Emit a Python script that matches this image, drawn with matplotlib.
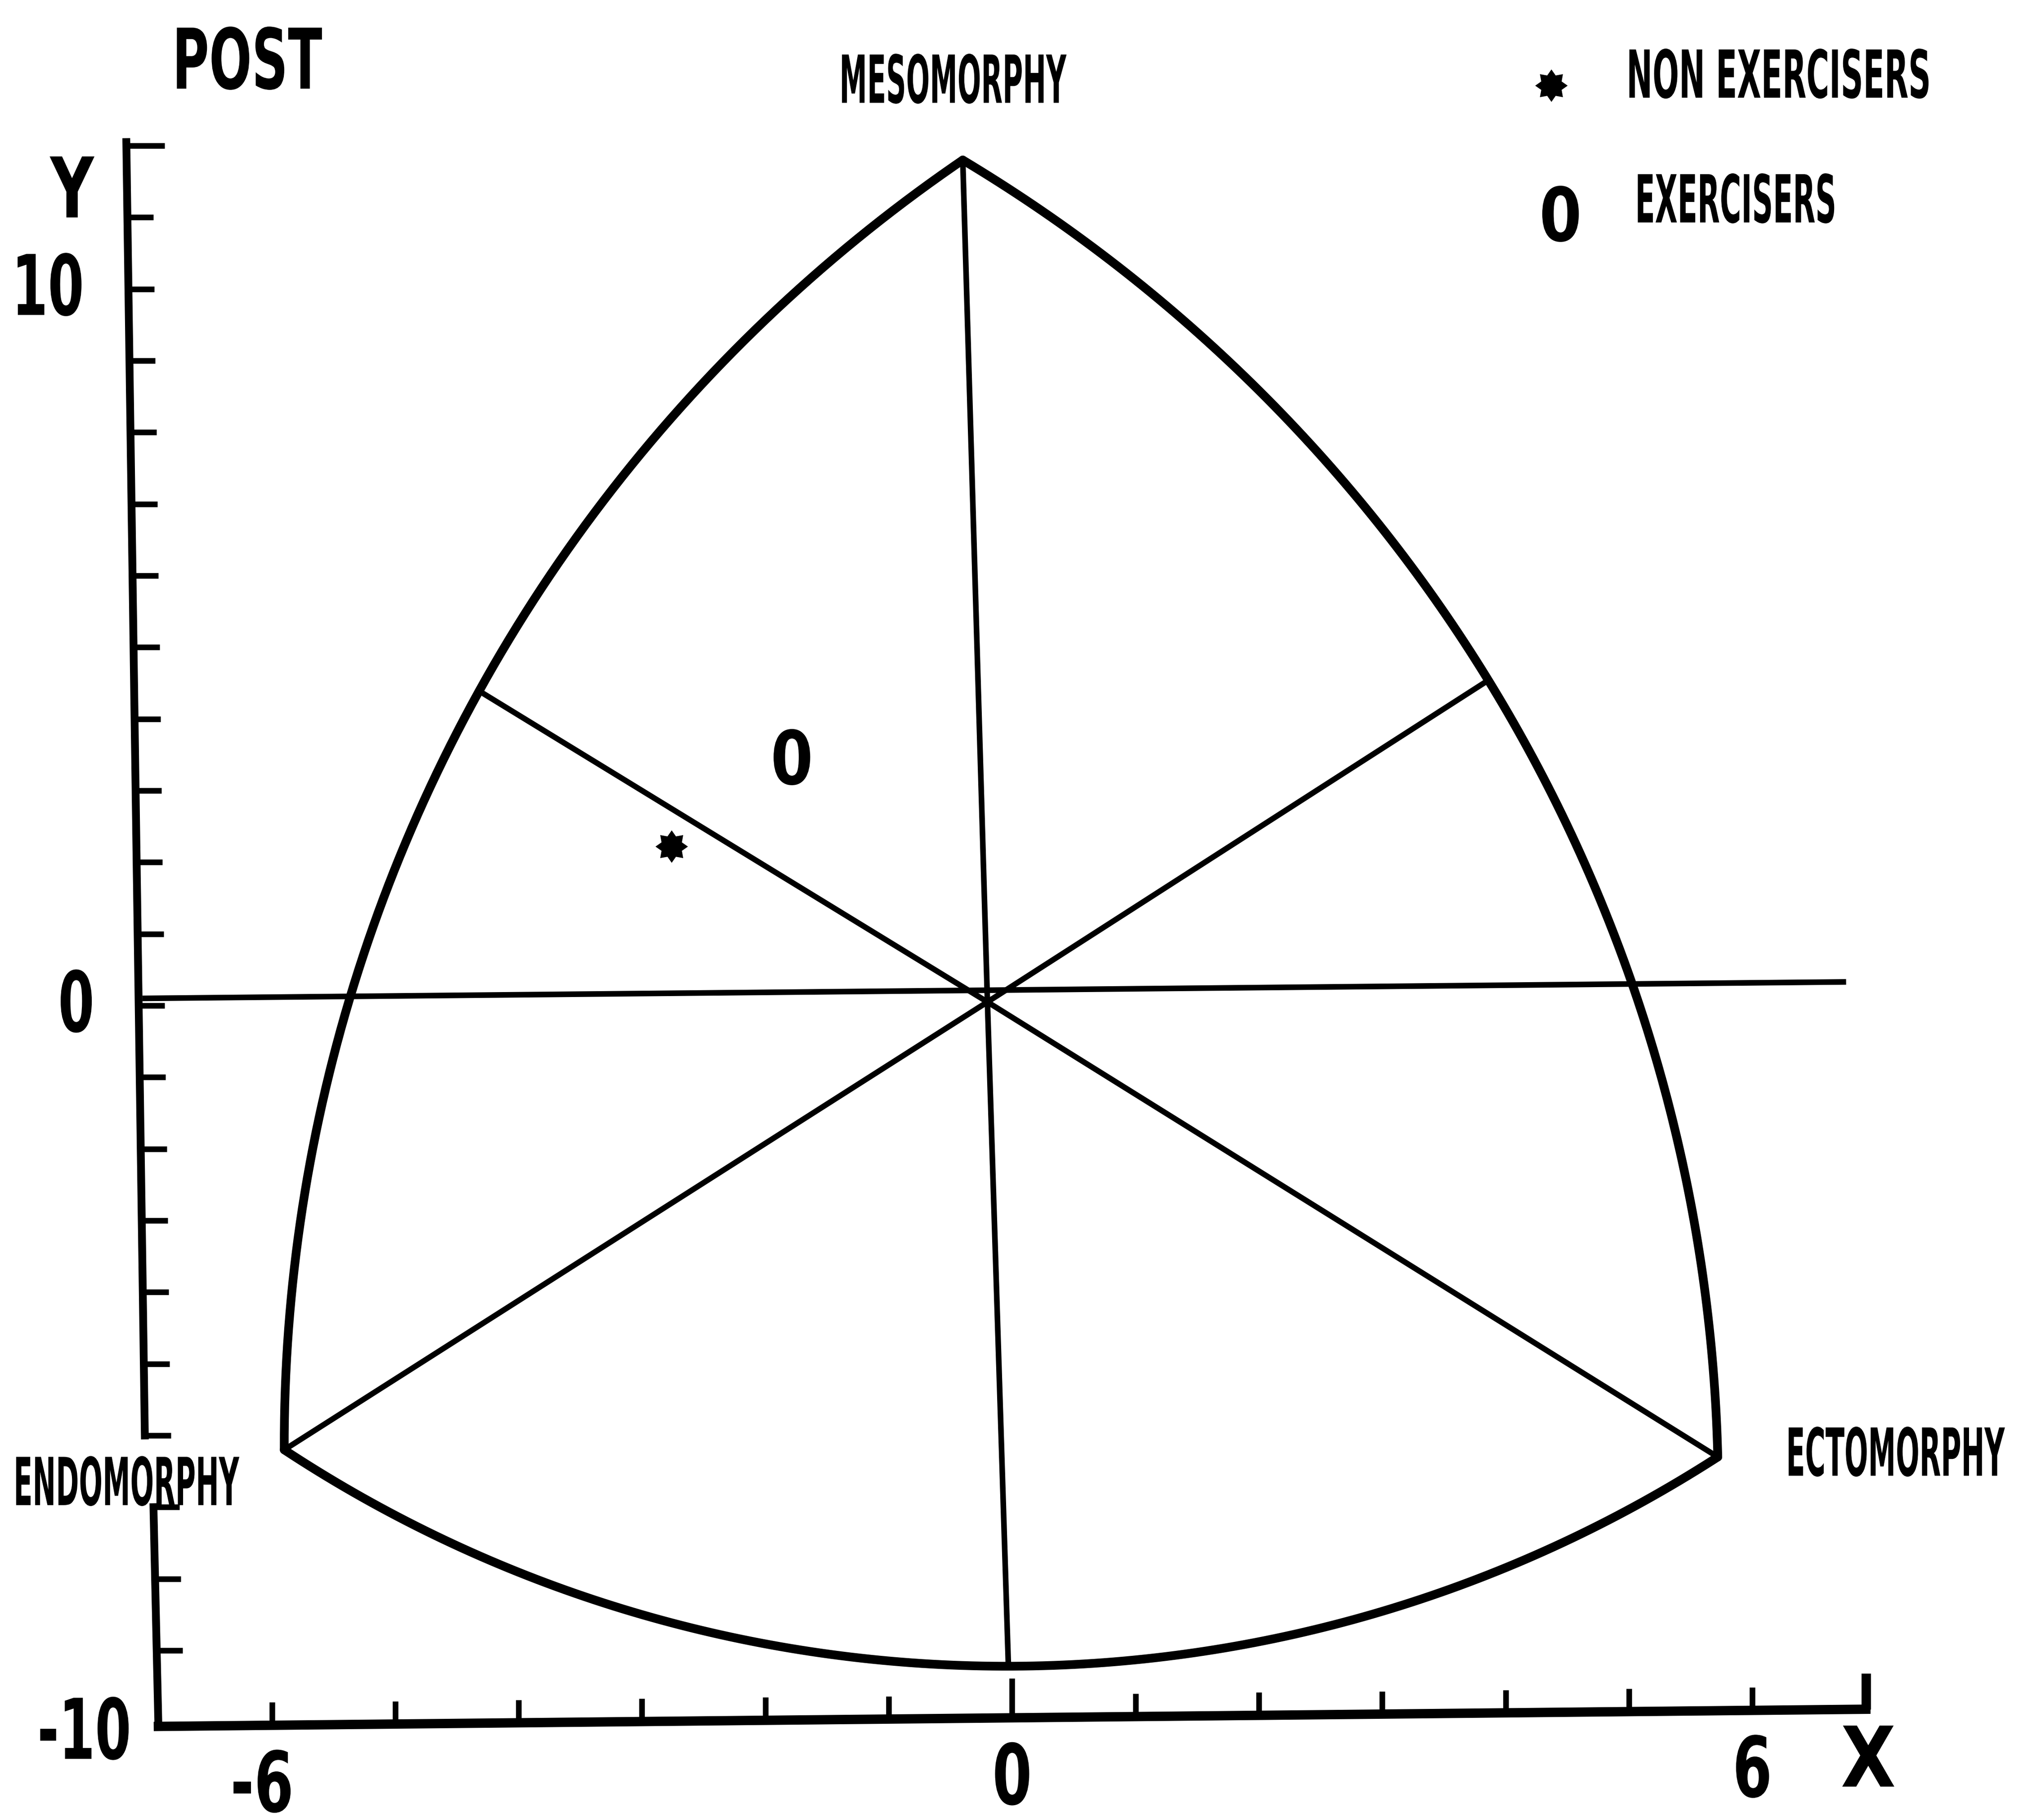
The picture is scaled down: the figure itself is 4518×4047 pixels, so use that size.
import numpy as np
import matplotlib
matplotlib.use("Agg")
import matplotlib.pyplot as plt
from matplotlib.font_manager import FontProperties
from matplotlib.path import Path
from matplotlib.textpath import TextPath
from matplotlib.transforms import Affine2D
from matplotlib.patheffects import AbstractPathEffect

# ---------------- data ----------------
group_names = ["NON EXERCISERS", "EXERCISERS"]
somato_x = [-2.76, -1.80]      # X = ecto - endo
somato_y = [2.22, 3.47]        # Y = 2*meso - (endo + ecto)

# somatochart frame (X, Y)
pole_names = ["MESOMORPHY", "ENDOMORPHY", "ECTOMORPHY"]
meso_pole = (-0.40, 11.80)
endo_pole = (-5.90, -6.20)
ecto_pole = (5.72, -6.30)
left_arc_mid = (-4.32, 4.39)
right_arc_mid = (3.86, 4.54)
bottom_arc_mid = (-0.03, -9.22)
chart_centre = (-0.20, 0.05)
zero_line_x = [-7.05, 6.76]
zero_line_y = [0.10, 0.33]

# axes
x_ticks = list(range(-6, 7))
x_tick_text = {-6: "-6", 0: "0", 6: "6"}
y_ticks_upper = list(range(-6, 13))
y_ticks_lower = [-7, -8, -9]
y_tick_text = {10: "10", 0: "0", -10: "-10"}
panel_title = "POST"


# ---------------- lettering ----------------
class TallLetters(AbstractPathEffect):
    """Stretch glyphs vertically about their own middle (tall, narrow lettering)."""

    def __init__(self, sy):
        super().__init__()
        self.sy = sy

    def draw_path(self, renderer, gc, tpath, affine, rgbFace=None):
        ys = tpath.vertices[:, 1]
        if ys.size == 0:
            return
        cy = 0.5 * (ys.min() + ys.max())
        stretch = Affine2D().translate(0, -cy).scale(1.0, self.sy).translate(0, cy)
        renderer.draw_path(gc, tpath, stretch + affine, rgbFace)


BOLD = FontProperties(family="DejaVu Sans", weight="bold")
INK = "black"


def letter(x, y, s, height_size, narrow, ha="center", va="center"):
    """Text whose letter height matches `height_size` pt and width is `narrow` of normal."""
    p = BOLD.copy()
    p.set_size(height_size * narrow)
    ax.text(x, y, s, ha=ha, va=va, fontproperties=p, color=INK,
            path_effects=[TallLetters(1.0 / narrow)])


BIG = 134
MID = 106

# ---------------- figure ----------------
fig = plt.figure(figsize=(45.18, 40.47), dpi=100)
ax = fig.add_axes([0, 0, 1, 1])
ax.set_xlim(-8.204, 8.267)
ax.set_ylim(-11.366, 14.033)
ax.set_axis_off()


def arc_through(p0, pm, p1, n=300):
    """Circular arc (in screen space) through three data points."""
    T = ax.transData
    a, b, c = T.transform(np.array([p0, pm, p1]))
    d = 2 * (a[0] * (b[1] - c[1]) + b[0] * (c[1] - a[1]) + c[0] * (a[1] - b[1]))
    ux = ((a @ a) * (b[1] - c[1]) + (b @ b) * (c[1] - a[1]) + (c @ c) * (a[1] - b[1])) / d
    uy = ((a @ a) * (c[0] - b[0]) + (b @ b) * (a[0] - c[0]) + (c @ c) * (b[0] - a[0])) / d
    ctr = np.array([ux, uy])
    r = np.hypot(*(a - ctr))
    ta, tb, tc = [np.arctan2(*(p - ctr)[::-1]) for p in (a, b, c)]
    d1 = (tb - ta) % (2 * np.pi)
    d2 = (tc - ta) % (2 * np.pi)
    if d1 < d2:
        t = np.linspace(ta, ta + d2, n)
    else:
        t = np.linspace(ta, ta - (2 * np.pi - d2), n)
    pts = ctr + r * np.column_stack([np.cos(t), np.sin(t)])
    return T.inverted().transform(pts)


# outer frame: three arcs
ARC_LW = 14.0
for p0, pm, p1 in [(endo_pole, left_arc_mid, meso_pole),
                   (meso_pole, right_arc_mid, ecto_pole),
                   (endo_pole, bottom_arc_mid, ecto_pole)]:
    xy = arc_through(p0, pm, p1)
    ax.plot(xy[:, 0], xy[:, 1], color=INK, lw=ARC_LW, solid_capstyle="round",
            solid_joinstyle="round")

# spokes from the centre
SPOKE_LW = 9.0
for end in [meso_pole, bottom_arc_mid, endo_pole, ecto_pole, left_arc_mid, right_arc_mid]:
    ax.plot([chart_centre[0], end[0]], [chart_centre[1], end[1]], color=INK,
            lw=SPOKE_LW, solid_capstyle="butt")
ax.plot(zero_line_x, zero_line_y, color=INK, lw=SPOKE_LW, solid_capstyle="butt")

# ---------------- axes (hand-ruled, broken Y axis) ----------------
YAX_LW = 12.5
XAX_LW = 15.0
TICK_LW = 9.0
upper_axis = ((-7.18, 12.05), (-7.03, -6.0))
lower_axis = ((-6.96, -7.0), (-6.92, -10.06))
x_axis = ((-6.92, -10.06), (6.92, -9.82))


def along(seg, v, coord):
    (x0, y0), (x1, y1) = seg
    if coord == "y":
        return x0 + (v - y0) * (x1 - x0) / (y1 - y0)
    return y0 + (v - x0) * (y1 - y0) / (x1 - x0)


for seg, lw in ((upper_axis, YAX_LW), (lower_axis, YAX_LW), (x_axis, XAX_LW)):
    (x0, y0), (x1, y1) = seg
    ax.plot([x0, x1], [y0, y1], color=INK, lw=lw, solid_capstyle="projecting")

for v in y_ticks_upper:
    u = along(upper_axis, v, "y")
    ln = 0.31 if v == max(y_ticks_upper) else 0.21
    ax.plot([u, u + ln], [v, v], color=INK, lw=TICK_LW, solid_capstyle="butt")
for v in y_ticks_lower:
    u = along(lower_axis, v, "y")
    ax.plot([u, u + 0.21], [v, v], color=INK, lw=TICK_LW, solid_capstyle="butt")
for u in x_ticks:
    v = along(x_axis, u, "x")
    ln = 0.55 if u == 0 else 0.32
    ax.plot([u, u], [v, v + ln], color=INK, lw=TICK_LW, solid_capstyle="butt")
x_end = x_axis[1]
ax.plot([x_end[0], x_end[0]], [x_end[1], x_end[1] + 0.50], color=INK, lw=XAX_LW,
        solid_capstyle="butt")

# tick labels
for v, s in y_tick_text.items():
    seg = upper_axis if v >= -6 else lower_axis
    u = along(seg, v, "y")
    gap = 0.22 if v == -10 else 0.36
    letter(u - gap, v - (0.15 if v == -10 else 0.0), s, BIG, 0.62, ha="right")
for u, s in x_tick_text.items():
    v = along(x_axis, u, "x")
    letter(u - (0.08 if u < 0 else 0.0), v - 0.85, s, BIG, 0.68)
letter(6.94, -10.56, "X", BIG, 0.85)
letter(-7.62, 11.35, "Y", BIG, 0.72)

# title and pole names
letter(-6.20, 13.16, panel_title, BIG, 0.60)
pole_pos = [(-0.48, 12.90), (-7.18, -6.67), (7.16, -6.26)]
for name, (u, v) in zip(pole_names, pole_pos):
    letter(u, v, name, MID, 0.42)


# ---------------- markers ----------------
def glyph_marker(ch, prop, narrow=1.0):
    tp = TextPath((0, 0), ch, size=1, prop=prop)
    verts = tp.vertices.copy()
    lo, hi = verts.min(axis=0), verts.max(axis=0)
    verts -= (lo + hi) / 2
    verts[:, 0] *= narrow
    return Path(verts, tp.codes)


star_marker = Path.unit_regular_star(8, innerCircle=0.68)
zero_marker = glyph_marker("0", BOLD, narrow=0.82)
markers = [star_marker, zero_marker]
marker_sizes = [52, 90]

for x, y, m, ms in zip(somato_x, somato_y, markers, marker_sizes):
    ax.plot([x], [y], ls="none", marker=m, ms=ms, mfc=INK, mec=INK, mew=0)

# key
key_marker_pos = [(4.37, 12.84), (4.43, 11.05)]
key_text_pos = [(4.98, 12.97), (5.05, 11.23)]
key_narrow = [0.47, 0.44]
for name, m, ms, (mx, my), (tx, ty), nw in zip(group_names, markers, marker_sizes,
                                               key_marker_pos, key_text_pos, key_narrow):
    ax.plot([mx], [my], ls="none", marker=m, ms=ms, mfc=INK, mec=INK, mew=0)
    letter(tx, ty, name, MID, nw, ha="left")

fig.savefig("out.png", dpi=100, facecolor="white")
